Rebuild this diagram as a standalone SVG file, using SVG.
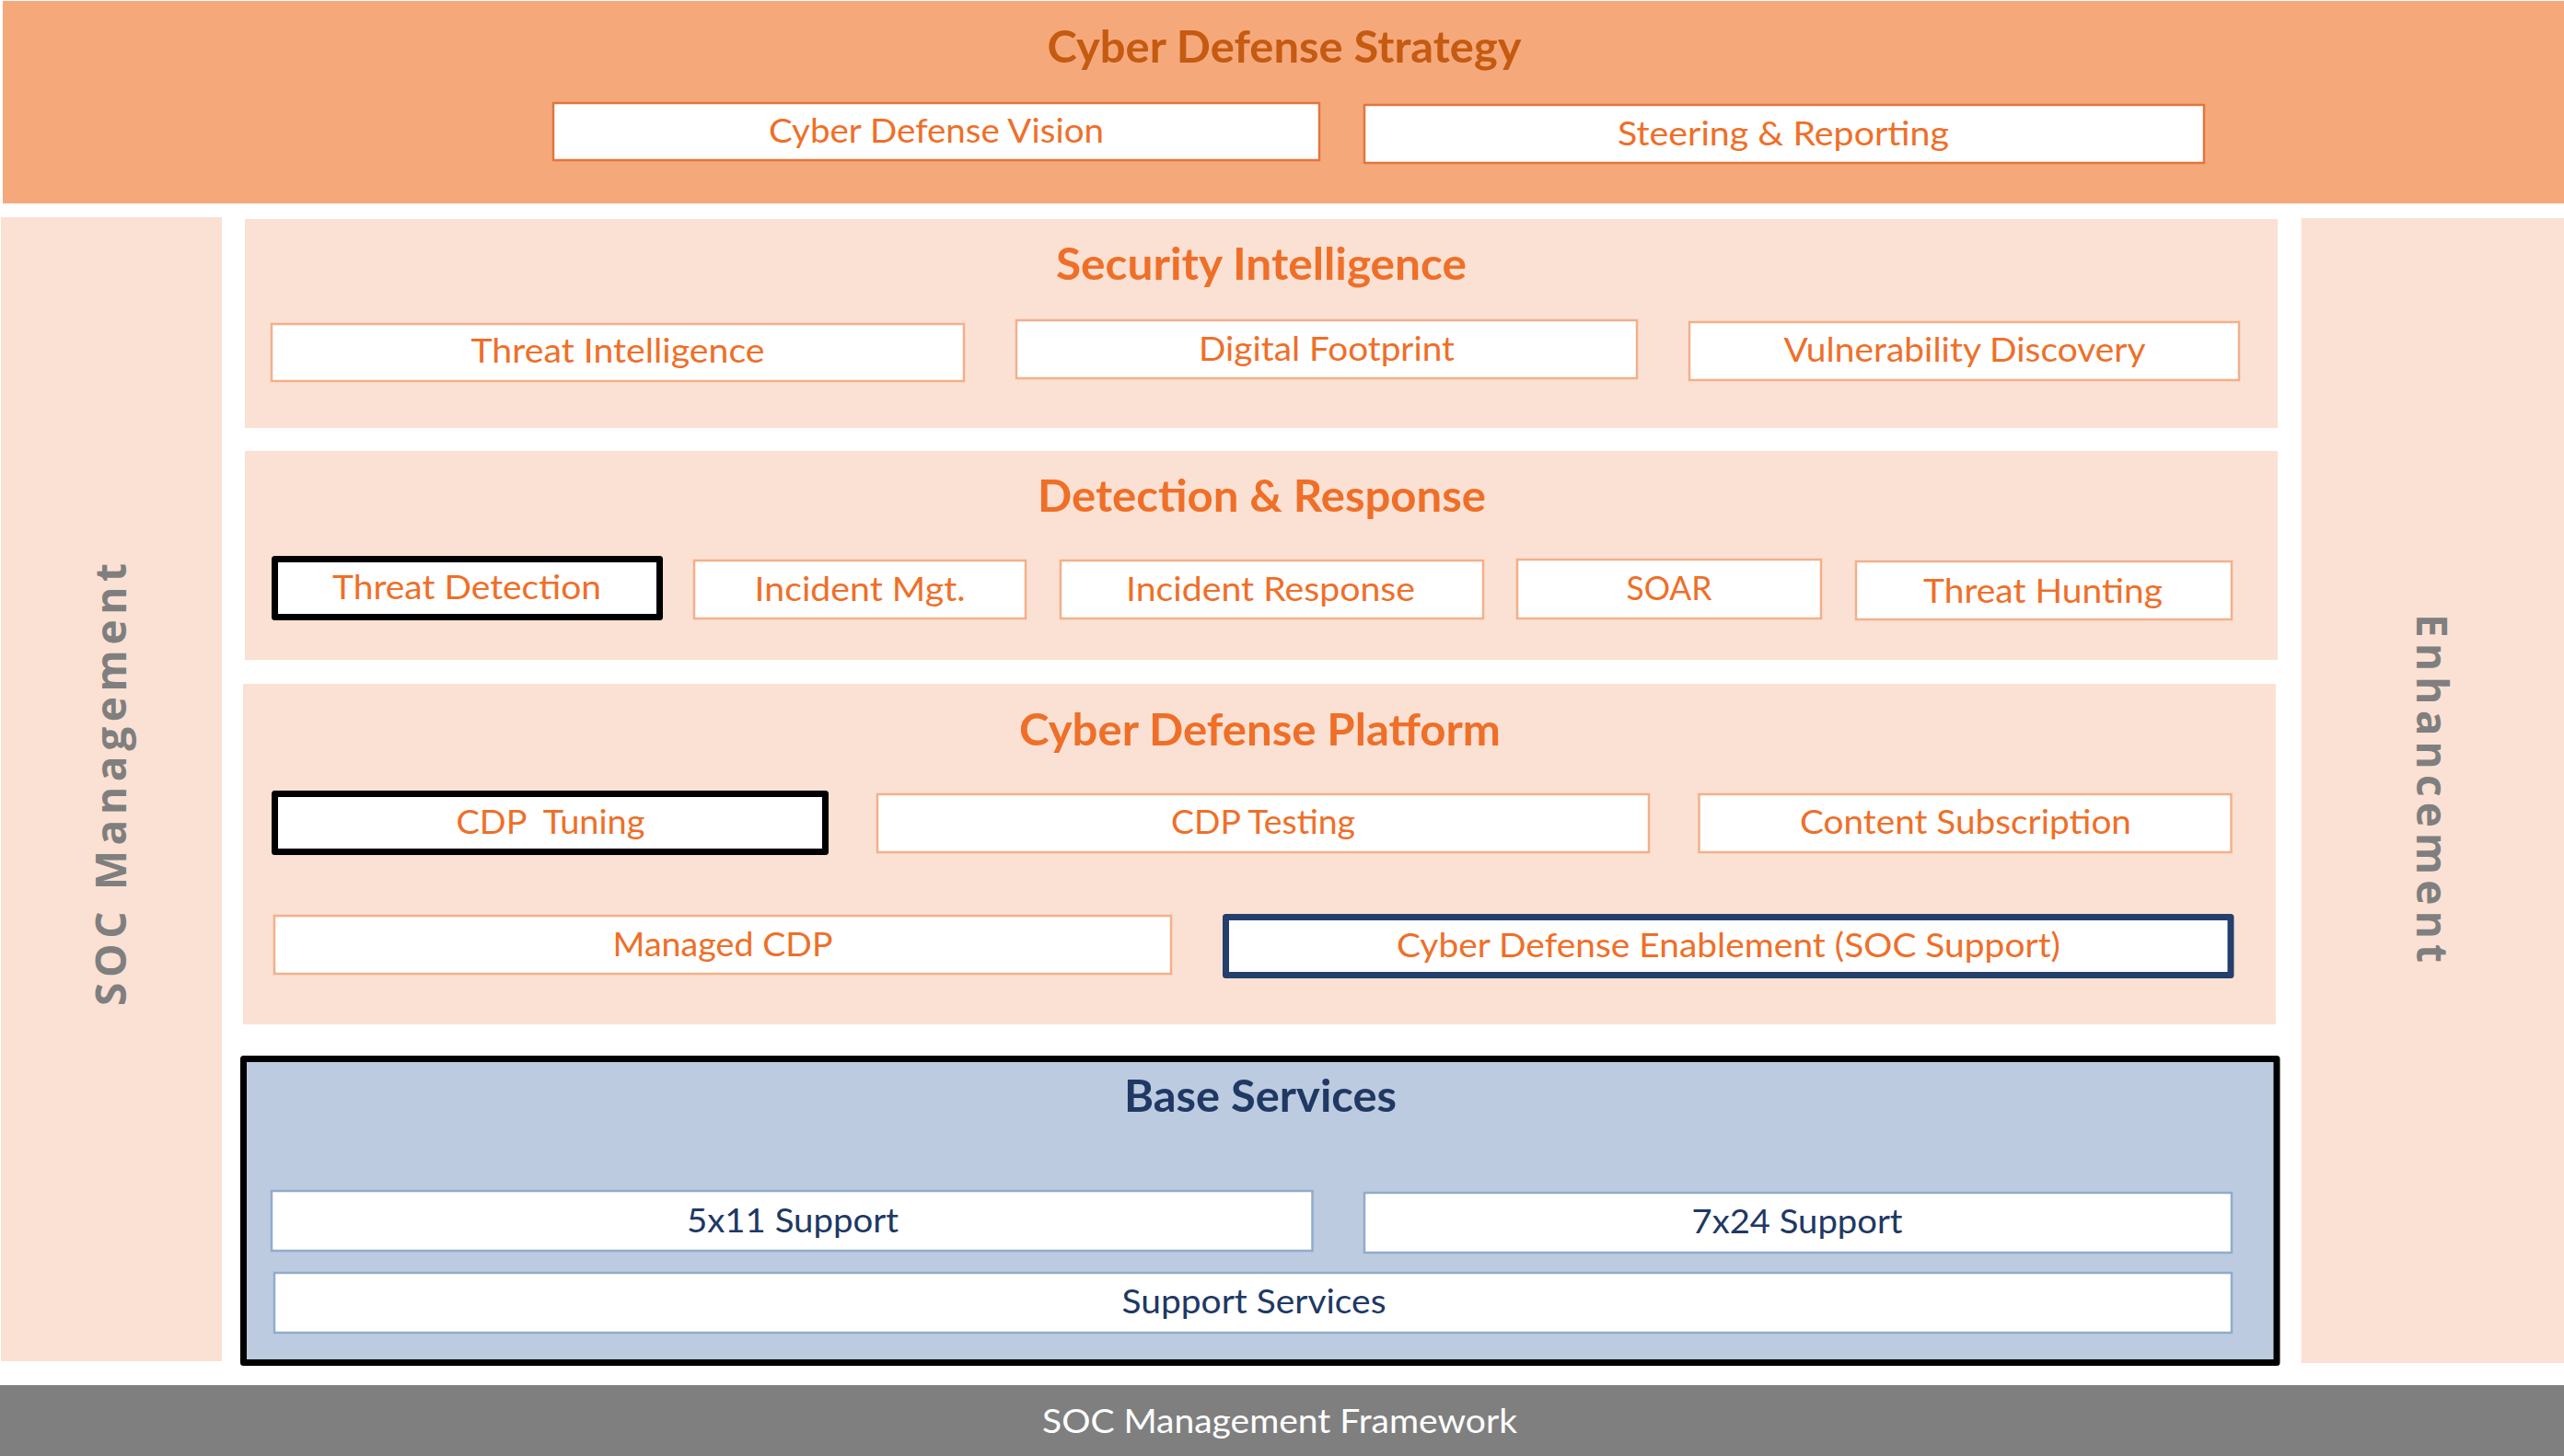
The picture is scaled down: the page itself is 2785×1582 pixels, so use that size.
<svg xmlns="http://www.w3.org/2000/svg" width="2785" height="1582" viewBox="0 0 2785 1582">
<style>
  text { font-family: Lato, "Open Sans", "Liberation Sans", sans-serif; text-anchor: middle; }
  .band { fill: #F5A97B; }
  .sec { fill: #FBE1D3; }
  .side { fill: #FBE1D3; }
  .h1 { font-size: 48px; font-weight: bold; fill: #C55A11; }
  .h2 { font-size: 48px; font-weight: bold; fill: #EF6F28; }
  .h3 { font-size: 48px; font-weight: bold; fill: #203864; }
  .t { font-size: 37px; fill: #EF6F28; }
  .tb { font-size: 37px; fill: #203864; }
  .tw { font-size: 37px; fill: #FFFFFF; }
  .bx1 { fill: #FFFFFF; stroke: #E2763E; stroke-width: 2.5; }
  .bx { fill: #FFFFFF; stroke: #F2B08A; stroke-width: 2.5; }
  .bxk { fill: #FFFFFF; stroke: #000000; stroke-width: 7; stroke-linejoin: round; }
  .bxn { fill: #FFFFFF; stroke: #243F6B; stroke-width: 7; stroke-linejoin: round; }
  .bxb { fill: #FFFFFF; stroke: #91ABCB; stroke-width: 2.5; }
  .vt { font-family: "Open Sans", "DejaVu Sans", sans-serif; font-size: 46px; font-weight: bold; fill: #7F7F7F; }
</style>
<rect width="2785" height="1582" fill="#FFFFFF"/>

<g id="strategy">
  <rect class="band" x="3" y="1" width="2782" height="220"/>
  <text class="h1" x="1395" y="68" textLength="515" lengthAdjust="spacingAndGlyphs">Cyber Defense Strategy</text>
</g>
<g id="vision">
  <rect class="bx1" x="601" y="112" width="832" height="62"/>
  <text class="t" x="1017" y="155" textLength="364" lengthAdjust="spacingAndGlyphs">Cyber Defense Vision</text>
</g>
<g id="steering">
  <rect class="bx1" x="1482" y="114" width="912" height="63"/>
  <text class="t" x="1937" y="158" textLength="360" lengthAdjust="spacingAndGlyphs">Steering &amp; Reporting</text>
</g>

<g id="soc-management">
  <rect class="side" x="1" y="236" width="240" height="1243"/>
  <text class="vt" transform="translate(137,852.5) rotate(-90)" x="0" y="0" textLength="481" lengthAdjust="spacing">SOC Management</text>
</g>
<g id="enhancement">
  <rect class="side" x="2499.5" y="237" width="285.5" height="1244"/>
  <text class="vt" transform="translate(2625,856.5) rotate(90)" x="0" y="0" textLength="379" lengthAdjust="spacing">Enhancement</text>
</g>

<g id="security-intelligence">
  <rect class="sec" x="266" y="238" width="2208" height="227"/>
  <text class="h2" x="1370" y="304" textLength="446" lengthAdjust="spacingAndGlyphs">Security Intelligence</text>
</g>
<g id="threat-intelligence">
  <rect class="bx" x="295" y="352" width="752" height="62"/>
  <text class="t" x="671" y="394" textLength="319" lengthAdjust="spacingAndGlyphs">Threat Intelligence</text>
</g>
<g id="digital-footprint">
  <rect class="bx" x="1104" y="348" width="674" height="63"/>
  <text class="t" x="1441" y="392" textLength="278" lengthAdjust="spacingAndGlyphs">Digital Footprint</text>
</g>
<g id="vulnerability-discovery">
  <rect class="bx" x="1835" y="350" width="597" height="63"/>
  <text class="t" x="2134" y="393" textLength="393" lengthAdjust="spacingAndGlyphs">Vulnerability Discovery</text>
</g>

<g id="detection-response">
  <rect class="sec" x="266" y="490" width="2208" height="227"/>
  <text class="h2" x="1370.5" y="556" textLength="487" lengthAdjust="spacingAndGlyphs">Detection &amp; Response</text>
</g>
<g id="threat-detection">
  <rect class="bxk" x="298.5" y="607.5" width="418" height="63"/>
  <text class="t" x="507" y="651" textLength="292" lengthAdjust="spacingAndGlyphs">Threat Detection</text>
</g>
<g id="incident-mgt">
  <rect class="bx" x="754" y="609" width="360" height="63"/>
  <text class="t" x="934" y="653" textLength="229" lengthAdjust="spacingAndGlyphs">Incident Mgt.</text>
</g>
<g id="incident-response">
  <rect class="bx" x="1152" y="609" width="459" height="63"/>
  <text class="t" x="1380" y="653" textLength="314" lengthAdjust="spacingAndGlyphs">Incident Response</text>
</g>
<g id="soar">
  <rect class="bx" x="1648" y="608" width="330" height="64"/>
  <text class="t" x="1813" y="652" textLength="93" lengthAdjust="spacingAndGlyphs">SOAR</text>
</g>
<g id="threat-hunting">
  <rect class="bx" x="2016" y="610" width="408" height="63"/>
  <text class="t" x="2219" y="655" textLength="260" lengthAdjust="spacingAndGlyphs">Threat Hunting</text>
</g>

<g id="cyber-defense-platform">
  <rect class="sec" x="264" y="743" width="2208" height="370"/>
  <text class="h2" x="1368.5" y="810" textLength="523" lengthAdjust="spacingAndGlyphs">Cyber Defense Platform</text>
</g>
<g id="cdp-tuning">
  <rect class="bxk" x="298.5" y="862.5" width="598" height="63"/>
  <text class="t" x="598" y="906" textLength="205" lengthAdjust="spacingAndGlyphs" xml:space="preserve">CDP  Tuning</text>
</g>
<g id="cdp-testing">
  <rect class="bx" x="953" y="863" width="838" height="63"/>
  <text class="t" x="1372" y="906" textLength="200" lengthAdjust="spacingAndGlyphs">CDP Testing</text>
</g>
<g id="content-subscription">
  <rect class="bx" x="1845.5" y="863" width="578" height="63"/>
  <text class="t" x="2135" y="906" textLength="360" lengthAdjust="spacingAndGlyphs">Content Subscription</text>
</g>
<g id="managed-cdp">
  <rect class="bx" x="298" y="995" width="974" height="63"/>
  <text class="t" x="785" y="1039" textLength="239" lengthAdjust="spacingAndGlyphs">Managed CDP</text>
</g>
<g id="cyber-defense-enablement">
  <rect class="bxn" x="1331.5" y="996.5" width="1091.5" height="63"/>
  <text class="t" x="1877.5" y="1040" textLength="721" lengthAdjust="spacingAndGlyphs">Cyber Defense Enablement (SOC Support)</text>
</g>

<g id="base-services">
  <rect x="264.5" y="1150.5" width="2208.5" height="330" fill="#BCCBDF" stroke="#000000" stroke-width="7" stroke-linejoin="round"/>
  <text class="h3" x="1369" y="1208" textLength="296" lengthAdjust="spacingAndGlyphs">Base Services</text>
</g>
<g id="support-5x11">
  <rect class="bxb" x="295" y="1294" width="1130.5" height="65"/>
  <text class="tb" x="861" y="1339" textLength="230" lengthAdjust="spacingAndGlyphs">5x11 Support</text>
</g>
<g id="support-7x24">
  <rect class="bxb" x="1482" y="1296" width="942" height="65"/>
  <text class="tb" x="1952" y="1340" textLength="229" lengthAdjust="spacingAndGlyphs">7x24 Support</text>
</g>
<g id="support-services">
  <rect class="bxb" x="298" y="1383" width="2126" height="65"/>
  <text class="tb" x="1362" y="1427" textLength="287" lengthAdjust="spacingAndGlyphs">Support Services</text>
</g>

<g id="soc-management-framework">
  <rect x="0" y="1505" width="2785" height="77" fill="#7F7F7F"/>
  <text class="tw" x="1390" y="1557" textLength="516" lengthAdjust="spacingAndGlyphs">SOC Management Framework</text>
</g>

<g id="connectors"></g>
</svg>
